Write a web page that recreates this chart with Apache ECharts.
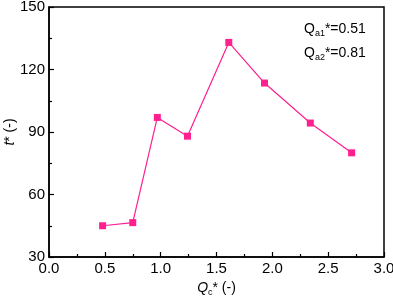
<!DOCTYPE html>
<html><head><meta charset="utf-8">
<script src="https://cdn.jsdelivr.net/npm/echarts@6/dist/echarts.min.js"></script>
<style>html,body{margin:0;padding:0;background:#fff}#c{width:393px;height:301px}</style>
</head><body><div id="c"></div>
<script>
const qc = [0.48, 0.75, 0.97, 1.24, 1.61, 1.93, 2.34, 2.71];
const tStar = [45, 46.5, 97, 88, 133, 113.5, 94.3, 80];
const xTicks = [0, 0.5, 1.0, 1.5, 2.0, 2.5, 3.0];
const yTicks = [30, 60, 90, 120, 150];
const annot1 = ['Q', 'a1', '*=0.51'];
const annot2 = ['Q', 'a2', '*=0.81'];

const F = 'Liberation Sans, Arial, sans-serif';
const chart = echarts.init(document.getElementById('c'));
const sub = {fontSize: 9, fontFamily: F, color: '#000', padding: [10, 0, 0, 0]};
chart.setOption({
  animation: false,
  grid: {left: 49, right: 9, top: 7, bottom: 44, show: true, borderColor: '#000', borderWidth: 1.5,
    containLabel: false, outerBoundsMode: 'none'},
  xAxis: {
    type: 'value', min: 0, max: 3, interval: 0.5,
    axisLine: {show: true, onZero: false, lineStyle: {color: '#000', width: 1.5}},
    axisTick: {inside: true, length: 5, lineStyle: {color: '#000', width: 1.2}},
    minorTick: {show: true, splitNumber: 2, length: 3, lineStyle: {color: '#000', width: 1.2}},
    splitLine: {show: false},
    axisLabel: {color: '#000', fontSize: 15, fontFamily: F, margin: 4,
      formatter: v => v.toFixed(1)},
    name: '{q|Q}{s|c}{n|* (-)}', nameLocation: 'middle', nameGap: 21,
    nameTextStyle: {rich: {
      q: {fontSize: 14, fontFamily: F, fontStyle: 'italic', color: '#000'},
      s: sub,
      n: {fontSize: 14, fontFamily: F, color: '#000'}
    }}
  },
  yAxis: {
    type: 'value', min: 30, max: 150, interval: 30,
    axisLine: {show: true, onZero: false, lineStyle: {color: '#000', width: 1.5}},
    axisTick: {inside: true, length: 5, lineStyle: {color: '#000', width: 1.2}},
    minorTick: {show: true, splitNumber: 2, length: 3, lineStyle: {color: '#000', width: 1.2}},
    splitLine: {show: false},
    axisLabel: {color: '#000', fontSize: 15, fontFamily: F, margin: 4},
    name: '{i|t}{n|* (-)}', nameLocation: 'middle', nameGap: 32, nameRotate: 90,
    nameMoveOverlap: false,
    nameTextStyle: {rich: {
      i: {fontSize: 14, fontFamily: F, fontStyle: 'italic', color: '#000'},
      n: {fontSize: 14, fontFamily: F, color: '#000'}
    }}
  },
  series: [{
    type: 'line',
    data: qc.map((x, i) => [x, tStar[i]]),
    symbol: 'rect', symbolSize: 7,
    lineStyle: {color: '#ff1f8f', width: 1.2},
    itemStyle: {color: '#ff1f8f'}
  }],
  graphic: [
    {type: 'text', left: 304, top: 22, style: {
      text: '{q|' + annot1[0] + '}{s|' + annot1[1] + '}{n|' + annot1[2] + '}',
      rich: {q: {fontSize: 14, fontFamily: F, color: '#000'}, s: sub, n: {fontSize: 14, fontFamily: F, color: '#000'}}
    }},
    {type: 'text', left: 304, top: 46, style: {
      text: '{q|' + annot2[0] + '}{s|' + annot2[1] + '}{n|' + annot2[2] + '}',
      rich: {q: {fontSize: 14, fontFamily: F, color: '#000'}, s: sub, n: {fontSize: 14, fontFamily: F, color: '#000'}}
    }}
  ]
});
</script></body></html>
